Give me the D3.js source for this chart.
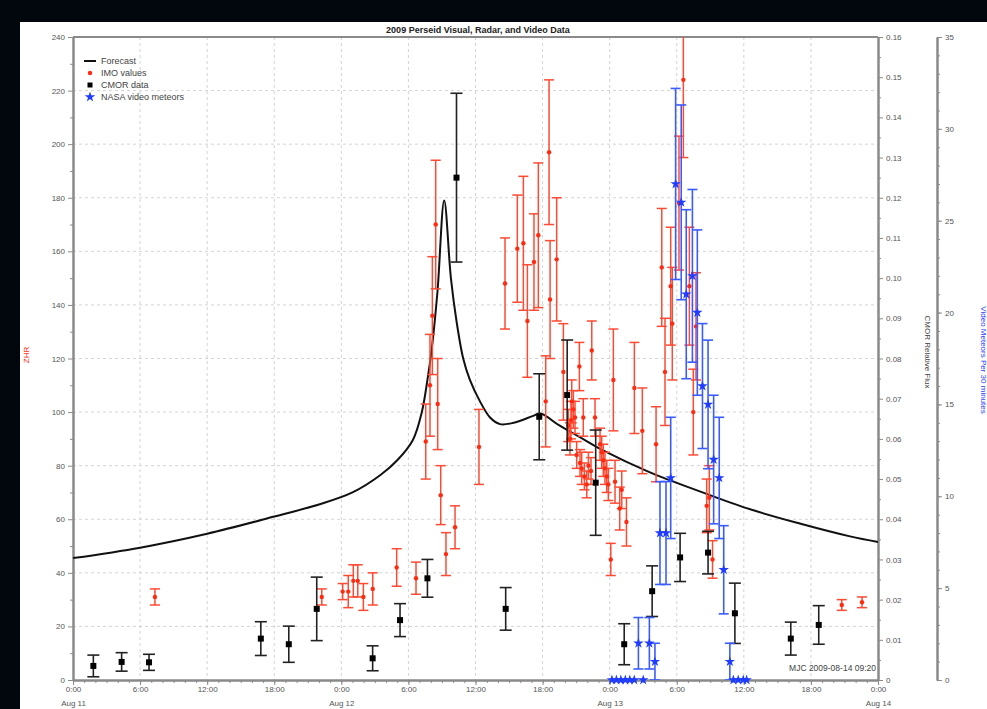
<!DOCTYPE html>
<html>
<head>
<meta charset="utf-8">
<script src="https://cdn.jsdelivr.net/npm/d3@7"></script>
<style>
  body { margin: 0; background: #02060d; }
  svg { display: block; font-family: "Liberation Sans", Arial, sans-serif; }
</style>
</head>
<body>
<svg id="chart" width="987" height="709"></svg>
<script>
// hours after 2009-08-11 00:00 UT
const forecast = [
  [0, 45.5], [6, 49.4], [12, 54.6], [18, 61], [22, 65.5], [25, 70], [27.5, 76.5], [29, 82],
  [30.4, 89.6], [31.2, 100], [31.7, 112], [32.1, 124], [32.6, 145], [33.2, 179],
  [33.8, 150], [34.3, 134], [34.9, 120], [35.5, 112], [36.4, 104], [37.3, 98], [38.2, 95.5],
  [39.4, 96], [41.1, 98.5], [41.8, 99.5], [43.5, 95], [45.6, 90], [47.5, 85.5],
  [51.5, 77.7], [56, 70.5], [60.5, 63.8], [65, 58.4], [69.5, 53.6], [72, 51.5]
];

// IMO visual ZHR: [hour, zhr, error]
const imoValues = [
  [7.33, 31, 3], [22.25, 31, 3], [24.12, 33, 3], [24.62, 33, 6], [25.07, 37, 6],
  [25.47, 37, 6], [25.97, 31, 5], [26.81, 34, 6], [28.95, 42, 7], [30.68, 38, 6],
  [31.55, 89, 14], [31.93, 110, 19], [32.14, 136, 22], [32.44, 170, 24], [32.62, 103, 17],
  [32.89, 69, 11], [33.36, 47, 8], [34.17, 57, 8], [36.31, 87, 14], [38.64, 148, 17],
  [39.74, 161, 20], [40.28, 163, 25], [40.64, 134, 21], [41.23, 156, 18], [41.62, 166, 27],
  [42.28, 104, 17], [42.58, 197, 27], [42.67, 142, 22], [43.26, 157, 23], [43.86, 115, 18],
  [44.30, 95, 6], [44.45, 90, 6], [44.54, 97, 7], [44.61, 104, 8], [44.75, 101, 7],
  [44.90, 98, 6], [45.05, 84, 5], [45.29, 117, 9], [45.35, 81, 5], [45.50, 79, 6],
  [45.64, 98, 7], [45.74, 76, 5], [45.95, 73, 5], [46.10, 80, 5], [46.33, 78, 5],
  [46.40, 123, 11], [46.69, 98, 7], [47.14, 88, 6], [47.29, 85, 6], [47.43, 82, 6],
  [47.58, 79, 6], [47.74, 76, 6], [47.88, 73, 6], [48.10, 45, 6], [48.33, 112, 19],
  [48.48, 74, 8], [48.90, 64, 8], [49.08, 71, 7], [49.50, 59, 9], [50.21, 109, 17],
  [50.92, 93, 16], [52.15, 88, 14], [52.66, 154, 22], [52.95, 115, 20], [53.46, 147, 22],
  [53.60, 133, 21], [54.20, 178, 25], [54.59, 224, 29], [55.13, 147, 22], [55.48, 100, 16],
  [55.72, 132, 20], [56.68, 65, 10], [56.91, 68, 12], [57.20, 45, 7],
  [68.76, 28, 2], [70.57, 29, 2]
];

// CMOR relative flux: [hour, flux, error]
const cmorData = [
  [1.82, 0.0035, 0.0027], [4.35, 0.0045, 0.0023], [6.8, 0.0044, 0.0020],
  [16.8, 0.0103, 0.0042], [19.3, 0.0089, 0.0045], [21.8, 0.0177, 0.0079],
  [26.8, 0.0054, 0.0031], [29.25, 0.0149, 0.0041], [31.7, 0.0253, 0.0047],
  [34.3, 0.1250, 0.0210], [38.7, 0.0177, 0.0053], [41.7, 0.0655, 0.0107],
  [44.2, 0.0709, 0.0137], [46.75, 0.0491, 0.0131], [49.3, 0.0089, 0.0051],
  [51.8, 0.0221, 0.0063], [54.3, 0.0305, 0.0060], [56.8, 0.0317, 0.0053],
  [59.2, 0.0166, 0.0075], [64.2, 0.0103, 0.0041], [66.7, 0.0137, 0.0048]
];

// NASA video meteors per 30 min: [hour, count, error]
const nasaVideo = [
  [48.2, 0, 0], [48.6, 0, 0], [49.0, 0, 0], [49.4, 0, 0], [49.8, 0, 0], [50.2, 0, 0],
  [50.57, 2, 1.4], [51.0, 0, 0], [51.55, 2, 1.4], [52.05, 1, 1], [52.5, 8, 2.8],
  [53.04, 8, 2.8], [53.46, 11, 3.3], [53.9, 27, 5.2], [54.4, 26, 5.3], [54.85, 21, 4.6],
  [55.4, 22, 4.7], [55.84, 20, 4.5], [56.3, 16, 3.4], [56.8, 15, 3.5], [57.3, 12, 3.5],
  [57.8, 11, 3.3], [58.2, 6, 2.4], [58.75, 1, 1],
  [59.06, 0, 0], [59.5, 0, 0], [59.95, 0, 0], [60.25, 0, 0]
];

const zhrTicks = d3.range(0, 241, 20);
const fluxTicks = d3.range(0, 17).map(d => d / 100);
const videoTicks = d3.range(0, 36, 5);
const dayLabels = ["Aug 11", "Aug 12", "Aug 13", "Aug 14"];

const svg = d3.select("#chart");
const plotL = 73, plotR = 878, plotT = 37, plotB = 680;
const red = "#ff2a10", blue = "#1f3cff", axisGrey = "#8a8a8a";

const t0 = Date.UTC(2009, 7, 11);
const hr = h => new Date(t0 + h * 3600e3);

const x = d3.scaleUtc().domain([hr(0), hr(72)]).range([plotL, plotR]);
const yZ = d3.scaleLinear().domain([0, 240]).range([plotB, plotT]);
const yF = d3.scaleLinear().domain([0, 0.16]).range([plotB, plotT]);
const yV = d3.scaleLinear().domain([0, 35]).range([plotB, plotT]);

// white page
svg.append("rect").attr("x", 20).attr("y", 22).attr("width", 967).attr("height", 687).attr("fill", "#fff");

// grid
const grid = svg.append("g").attr("stroke", "#d4d4d4").attr("stroke-dasharray", "3,3");
grid.selectAll("line.h").data(zhrTicks.slice(1, -1)).join("line")
  .attr("x1", plotL).attr("x2", plotR).attr("y1", d => yZ(d)).attr("y2", d => yZ(d));
grid.selectAll("line.v").data(d3.range(6, 72, 6)).join("line")
  .attr("y1", plotT).attr("y2", plotB).attr("x1", d => x(hr(d))).attr("x2", d => x(hr(d)));

function styleAxis(g) {
  g.select(".domain").attr("stroke", axisGrey).attr("stroke-width", 2);
  g.selectAll(".tick line").attr("stroke", axisGrey);
  g.selectAll(".tick text").attr("fill", "#555").attr("font-size", 8);
}

// left ZHR axis
svg.append("g").attr("transform", `translate(${plotL},0)`)
  .call(d3.axisLeft(yZ).tickValues(d3.range(10, 240, 20)).tickSize(3).tickFormat("").tickSizeOuter(0))
  .call(styleAxis);
svg.append("g").attr("transform", `translate(${plotL},0)`)
  .call(d3.axisLeft(yZ).tickValues(zhrTicks).tickSize(5).tickSizeOuter(0))
  .call(styleAxis);

// right CMOR axis
svg.append("g").attr("transform", `translate(${plotR},0)`)
  .call(d3.axisRight(yF).tickValues(d3.range(0.005, 0.16, 0.01)).tickSize(3).tickFormat("").tickSizeOuter(0))
  .call(styleAxis);
svg.append("g").attr("transform", `translate(${plotR},0)`)
  .call(d3.axisRight(yF).tickValues(fluxTicks).tickSize(5).tickSizeOuter(0)
    .tickFormat(d => d === 0 ? "0" : d3.format(".2f")(d)))
  .call(styleAxis);

// video axis
svg.append("g").attr("transform", "translate(937,0)")
  .call(d3.axisRight(yV).tickValues(d3.range(0, 36, 1)).tickSize(3).tickFormat("").tickSizeOuter(0))
  .call(styleAxis);
svg.append("g").attr("transform", "translate(937,0)")
  .call(d3.axisRight(yV).tickValues(videoTicks).tickSize(5).tickSizeOuter(0))
  .call(styleAxis);

// top border
svg.append("line").attr("x1", plotL).attr("x2", plotR).attr("y1", plotT).attr("y2", plotT)
  .attr("stroke", axisGrey).attr("stroke-width", 2);

// bottom time axis
svg.append("g").attr("transform", `translate(0,${plotB})`)
  .call(d3.axisBottom(x).ticks(d3.utcHour.every(1)).tickSize(3).tickFormat("").tickSizeOuter(0))
  .call(styleAxis);
const xAxis = svg.append("g").attr("transform", `translate(0,${plotB})`)
  .call(d3.axisBottom(x).ticks(d3.utcHour.every(6)).tickSize(5).tickSizeOuter(0)
    .tickFormat(d3.utcFormat("%-H:%M")))
  .call(styleAxis);
xAxis.selectAll(".tick text").attr("dy", "0.5em");
xAxis.selectAll(".tick").filter(d => d.getUTCHours() === 0).append("text")
  .attr("y", 20).attr("dy", "0.71em").attr("fill", "#555").attr("font-size", 8)
  .text(d => dayLabels[Math.round((d - t0) / 864e5)]);

// forecast line
svg.append("path").datum(forecast)
  .attr("fill", "none").attr("stroke", "#111").attr("stroke-width", 2)
  .attr("d", d3.line().curve(d3.curveCatmullRom.alpha(0.5)).x(d => x(hr(d[0]))).y(d => yZ(d[1])));

svg.append("clipPath").attr("id", "plot")
  .append("rect").attr("x", plotL).attr("y", plotT).attr("width", plotR - plotL).attr("height", plotB - plotT);

function errorBars(data, y, color, cap, width) {
  const g = svg.append("g").attr("clip-path", "url(#plot)")
    .attr("stroke", color).attr("stroke-width", width).attr("fill", "none");
  const rows = data.filter(d => d[2] > 0);
  g.selectAll("line.bar").data(rows).join("line")
    .attr("x1", d => x(hr(d[0]))).attr("x2", d => x(hr(d[0])))
    .attr("y1", d => y(d[1] + d[2])).attr("y2", d => y(d[1] - d[2]));
  [1, -1].forEach(s => {
    g.selectAll(null).data(rows).join("line")
      .attr("x1", d => x(hr(d[0])) - cap).attr("x2", d => x(hr(d[0])) + cap)
      .attr("y1", d => y(d[1] + s * d[2])).attr("y2", d => y(d[1] + s * d[2]));
  });
}

// IMO
errorBars(imoValues, yZ, "#ff4a33", 5, 1.5);
svg.append("g").selectAll("circle").data(imoValues).join("circle")
  .attr("cx", d => x(hr(d[0]))).attr("cy", d => yZ(d[1])).attr("r", 2.2).attr("fill", red);

// CMOR
errorBars(cmorData, yF, "#222", 6, 1.6);
svg.append("g").selectAll("rect").data(cmorData).join("rect")
  .attr("x", d => x(hr(d[0])) - 3).attr("y", d => yF(d[1]) - 3)
  .attr("width", 6).attr("height", 6).attr("fill", "#000");

// NASA video
errorBars(nasaVideo, yV, "#3a5cff", 5, 1.6);
const star = d3.symbol().type(d3.symbolStar).size(34);
svg.append("g").selectAll("path").data(nasaVideo).join("path")
  .attr("transform", d => `translate(${x(hr(d[0]))},${yV(d[1])})`)
  .attr("d", star).attr("fill", blue);

// title & labels
svg.append("text").attr("x", 478).attr("y", 33).attr("text-anchor", "middle")
  .attr("font-size", 9).attr("font-weight", "bold").attr("fill", "#222")
  .text("2009 Perseid Visual, Radar, and Video Data");
svg.append("text").attr("transform", "translate(29,355) rotate(-90)").attr("text-anchor", "middle")
  .attr("font-size", 8).attr("fill", red).text("ZHR");
svg.append("text").attr("transform", "translate(925,352) rotate(90)").attr("text-anchor", "middle")
  .attr("font-size", 8).attr("fill", "#444").text("CMOR Relative Flux");
svg.append("text").attr("transform", "translate(981,360) rotate(90)").attr("text-anchor", "middle")
  .attr("font-size", 8).attr("fill", blue).text("Video Meteors Per 30 minutes");
svg.append("text").attr("x", 876).attr("y", 671).attr("text-anchor", "end")
  .attr("font-size", 8.5).attr("fill", "#444").text("MJC 2009-08-14 09:20");

// legend
const legend = svg.append("g").attr("font-size", 9).attr("fill", "#444");
const legendItems = ["Forecast", "IMO values", "CMOR data", "NASA video meteors"];
legend.selectAll("text").data(legendItems).join("text")
  .attr("x", 101).attr("y", (d, i) => 64 + i * 12).text(d => d);
legend.append("line").attr("x1", 84).attr("x2", 96).attr("y1", 61).attr("y2", 61)
  .attr("stroke", "#111").attr("stroke-width", 2);
legend.append("circle").attr("cx", 90).attr("cy", 73).attr("r", 2.2).attr("fill", red);
legend.append("rect").attr("x", 87.5).attr("y", 82.5).attr("width", 5).attr("height", 5).attr("fill", "#000");
legend.append("path").attr("transform", "translate(90,97)").attr("d", star).attr("fill", blue);
</script>
</body>
</html>
